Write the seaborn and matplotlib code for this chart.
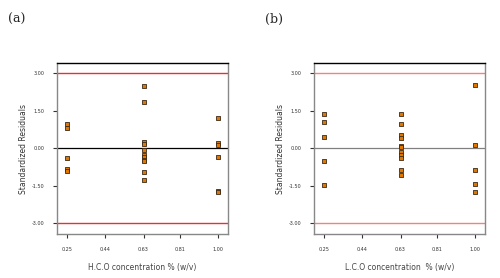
import numpy as np
import pandas as pd
import seaborn as sns
import matplotlib.pyplot as plt

# datos
x_ticks = [0.25, 0.44, 0.63, 0.81, 1.00]
x_tick_labels = ['0.25', '0.44', '0.63', '0.81', '1.00']
y_ticks = [3.0, 1.5, 0.0, -1.5, -3.0]
y_tick_labels = ['3.00', '1.50', '0.00', '-1.50', '-3.00']

hco_conc = [0.25] * 5 + [0.63] * 11 + [1.00] * 6
hco_resid = [0.98, 0.81, -0.40, -0.82, -0.90,
             2.50, 1.84, 0.24, 0.16, -0.07, -0.29, -0.37, -0.47, -0.53, -0.97, -1.29,
             1.20, 0.20, 0.13, -0.35, -1.72, -1.76]

lco_conc = [0.25] * 5 + [0.63] * 11 + [1.00] * 5
lco_resid = [1.37, 1.05, 0.44, -0.53, -1.49,
             1.35, 0.95, 0.53, 0.41, 0.09, 0.05, -0.17, -0.28, -0.39, -0.88, -1.07,
             2.52, 0.13, -0.87, -1.44, -1.76]

df_a = pd.DataFrame({'conc': hco_conc, 'resid': hco_resid})
df_b = pd.DataFrame({'conc': lco_conc, 'resid': lco_resid})

sns.set_style('white')
fig = plt.figure(figsize=(5, 2.78), dpi=100)

paneles = [
    (df_a, [0.114, 0.158, 0.342, 0.615], '(a)', 0.016,
     'H.C.O concentration % (w/v)', '#e8302f', 'black'),
    (df_b, [0.628, 0.158, 0.342, 0.615], '(b)', 0.53,
     'L.C.O concentration  % (w/v)', '#f58080', '#808080'),
]

for df, pos, tag, tag_x, xlabel, red, zero_col in paneles:
    ax = fig.add_axes(pos)
    ax.axhline(3.0, color=red, lw=1.0, zorder=1)
    ax.axhline(-3.0, color=red, lw=1.0, zorder=1)
    ax.axhline(0.0, color=zero_col, lw=0.9, zorder=1)
    sns.scatterplot(data=df, x='conc', y='resid', marker='s', s=8,
                    color='#e07800', edgecolor='#3a2a1a', linewidth=0.6,
                    ax=ax, zorder=3)
    ax.set_xlim(0.20, 1.05)
    ax.set_ylim(-3.44, 3.40)
    ax.set_xticks(x_ticks)
    ax.set_xticklabels(x_tick_labels)
    ax.set_yticks(y_ticks)
    ax.set_yticklabels(y_tick_labels)
    ax.tick_params(axis='both', length=3, width=0.8, labelsize=3.5,
                   colors='#333333', pad=6, left=True, bottom=True)
    for side in ['left', 'right', 'bottom']:
        ax.spines[side].set_color('#888888')
        ax.spines[side].set_linewidth(1.0)
    ax.spines['top'].set_color('black')
    ax.spines['top'].set_linewidth(1.0)
    ax.set_xlabel(xlabel, fontsize=5.5, color='#444444', labelpad=8)
    ax.set_ylabel('Standardized Residuals', fontsize=5.5, color='#333333', labelpad=3)
    fig.text(tag_x, 0.93, tag, fontsize=9, family='DejaVu Serif', va='center')

plt.savefig('out.png', dpi=100)
